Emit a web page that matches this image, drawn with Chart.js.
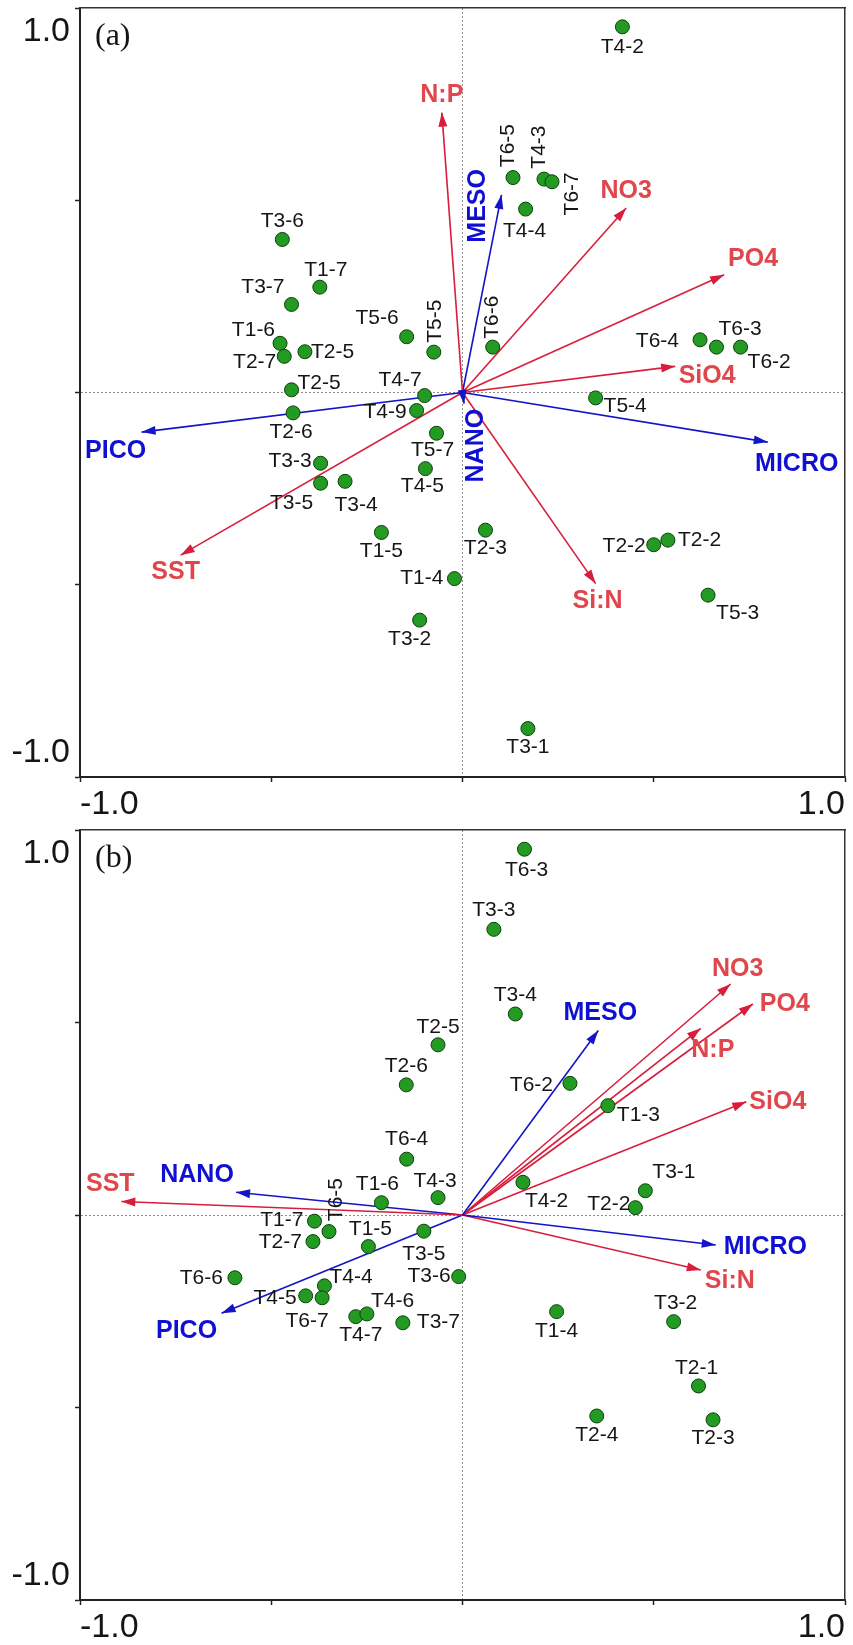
<!DOCTYPE html>
<html>
<head>
<meta charset="utf-8">
<script src="https://cdn.jsdelivr.net/npm/chart.js@4.4.1/dist/chart.umd.min.js"></script>
<style>
  html, body { margin: 0; padding: 0; background: #fff; }
  body { width: 853px; height: 1645px; overflow: hidden; }
  canvas { display: block; }
</style>
</head>
<body>
<canvas id="rda-a" width="853" height="822"></canvas>
<canvas id="rda-b" width="853" height="823"></canvas>
<script>
// RDA biplots: sampling sites (green dots) with environmental (red) and size-class (blue) vectors
const SANS = '"Liberation Sans", Arial, sans-serif';

const tickText = { '-1': '-1.0', '1': '1.0' };
const envVars = ['SST', 'NO3', 'PO4', 'SiO4', 'N:P', 'Si:N'];

// ---- panel (a)
const sitesA = ['T3-6','T1-7','T3-7','T5-6','T1-6','T2-5','T2-7','T2-5','T4-7','T4-9','T2-6','T3-3','T3-5','T3-4','T1-5','T3-2','T1-4','T4-5','T5-7','T5-5','T6-6','T6-5','T4-3','T6-7','T4-4','T4-2','T6-4','T6-3','T6-2','T5-4','T2-3','T2-2','T2-2','T5-3','T3-1'];
const siteXA = [-0.471,-0.373,-0.447,-0.146,-0.477,-0.412,-0.466,-0.447,-0.099,-0.120,-0.443,-0.371,-0.371,-0.307,-0.212,-0.112,-0.021,-0.097,-0.068,-0.075,0.079,0.132,0.213,0.234,0.165,0.418,0.621,0.664,0.727,0.348,0.060,0.500,0.537,0.642,0.171];
const siteYA = [0.398,0.274,0.229,0.145,0.128,0.106,0.094,0.007,-0.008,-0.047,-0.053,-0.184,-0.236,-0.231,-0.364,-0.592,-0.484,-0.198,-0.106,0.105,0.118,0.559,0.555,0.548,0.477,0.951,0.137,0.118,0.118,-0.014,-0.358,-0.396,-0.384,-0.527,-0.874];
const varsA = ['N:P','MESO','NO3','PO4','SiO4','PICO','SST','MICRO','Si:N','NANO'];
const varXA = [-0.054,0.102,0.428,0.684,0.556,-0.839,-0.737,0.798,0.348,0.004];
const varYA = [0.728,0.514,0.480,0.306,0.068,-0.103,-0.423,-0.129,-0.497,-0.029];

// ---- panel (b)
const sitesB = ['T6-3','T3-3','T3-4','T2-5','T2-6','T6-2','T1-3','T6-4','T1-6','T4-3','T6-5','T1-7','T2-7','T1-5','T3-5','T6-6','T4-4','T4-5','T6-7','T4-7','T4-6','T3-7','T3-6','T1-4','T3-2','T2-1','T2-4','T2-3','T4-2','T3-1','T2-2'];
const siteXB = [0.162,0.082,0.138,-0.064,-0.147,0.281,0.380,-0.146,-0.212,-0.064,-0.349,-0.387,-0.391,-0.246,-0.101,-0.595,-0.361,-0.410,-0.367,-0.279,-0.250,-0.156,-0.010,0.246,0.552,0.617,0.351,0.655,0.158,0.478,0.452];
const siteYB = [0.950,0.742,0.522,0.442,0.338,0.342,0.284,0.145,0.032,0.045,-0.043,-0.016,-0.069,-0.082,-0.042,-0.163,-0.184,-0.210,-0.215,-0.264,-0.257,-0.280,-0.160,-0.251,-0.277,-0.444,-0.522,-0.532,0.085,0.063,0.019];
const varsB = ['SST','NANO','PICO','MICRO','Si:N','MESO','NO3','PO4','N:P','SiO4'];
const varXB = [-0.892,-0.592,-0.630,0.662,0.623,0.355,0.701,0.759,0.623,0.742];
const varYB = [0.035,0.059,-0.255,-0.078,-0.143,0.479,0.600,0.548,0.485,0.294];

// label placement (anchor, dx px, dy px): c=centred, l=starts at, r=ends at, v=vertical
const siteLabA = [['c',0,-18],['c',6,-17],['r',-7,-17],['r',-8,-19],['r',-5,-13],['l',6,0],['r',-8,6],['l',6,-7],['r',-3,-15],['r',-10,2],['c',-2,19],['r',-9,-2],['c',-29,20],['c',11,24],['c',0,19],['c',-10,19],['r',-11,0],['c',-3,18],['c',-4,17],['v',1,-31],['v',-1,-30],['v',-5,-32],['v',-5,-32],['v',20,12],['c',-1,22],['c',0,20],['r',-21,1],['l',2,-18],['l',7,15],['l',8,8],['c',0,18],['r',-8,1],['l',10,0],['l',8,18],['c',0,19]];
const varLabA = [['c',0,-17],['v',-23,11],['c',0,-17],['c',29,-16],['c',32,10],['c',-26,19],['c',-5,17],['c',29,22],['c',2,18],['v',12,42]];
const siteLabB = [['c',2,21],['c',0,-19],['c',0,-19],['c',0,-18],['c',0,-19],['r',-17,2],['l',9,10],['c',0,-20],['c',-4,-18],['c',-3,-16],['v',7,-32],['r',-11,-1],['r',-11,1],['c',2,-17],['c',0,23],['r',-12,0],['l',5,-9],['r',-9,2],['c',-15,23],['c',5,19],['l',4,-13],['l',14,-1],['r',-8,0],['c',0,20],['c',2,-18],['c',-2,-18],['c',0,19],['c',0,18],['l',2,19],['l',7,-19],['r',-5,-3]];
const varLabB = [['c',-11,-17],['c',-39,-17],['c',-35,18],['l',8,2],['l',4,11],['c',2,-17],['c',7,-15],['l',7,0],['c',12,22],['l',3,0]];

const RED = '#d81e3c', RED_TXT = '#e0474c', BLUE = '#1414c8', BLUE_TXT = '#1010d2';

function put(ctx, text, p, [how, dx, dy], font, color) {
  ctx.save();
  ctx.font = font;
  ctx.fillStyle = color;
  ctx.textBaseline = 'middle';
  ctx.translate(p.x + dx, p.y + dy);
  if (how === 'v') ctx.rotate(-Math.PI / 2);
  ctx.textAlign = how === 'l' ? 'left' : how === 'r' ? 'right' : 'center';
  ctx.fillText(text, 0, 0);
  ctx.restore();
}

// arrowheads, vector names, site names and panel tag
const labels = {
  id: 'labels',
  afterDatasetsDraw(chart, args, o) {
    const { ctx, chartArea } = chart;
    chart.data.datasets.forEach((ds, i) => {
      const pts = chart.getDatasetMeta(i).data;
      if (ds.vector) {
        const [p0, p1] = pts;
        const a = Math.atan2(p1.y - p0.y, p1.x - p0.x), c = Math.cos(a), s = Math.sin(a);
        ctx.save();
        ctx.fillStyle = ds.borderColor;
        ctx.beginPath();
        ctx.moveTo(p1.x, p1.y);
        ctx.lineTo(p1.x - 14 * c + 4.5 * s, p1.y - 14 * s - 4.5 * c);
        ctx.lineTo(p1.x - 14 * c - 4.5 * s, p1.y - 14 * s + 4.5 * c);
        ctx.closePath();
        ctx.fill();
        ctx.restore();
        put(ctx, ds.label, p1, ds.place, 'bold 25px ' + SANS, ds.textColor);
      } else {
        pts.forEach((p, j) => put(ctx, ds.names[j], p, ds.places[j], '21px ' + SANS, '#151515'));
      }
    });
    put(ctx, o.tag, { x: chartArea.left, y: chartArea.top }, ['l', 15, 29], '32px "Liberation Serif", "Times New Roman", serif', '#151515');
  }
};

const zeroLine = c => (c.tick && c.tick.value === 0 ? '#8c8c8c' : 'rgba(0,0,0,0)');
const tickFont = { family: SANS, size: 34 };

function biplot(id, tag, padTop, sites, sx, sy, sitePlace, vars, vx, vy, varPlace) {
  const datasets = vars.map((v, i) => {
    const env = envVars.includes(v);
    return {
      label: v, vector: true, place: varPlace[i],
      data: [{ x: 0, y: 0 }, { x: vx[i], y: vy[i] }],
      showLine: true, borderColor: env ? RED : BLUE, textColor: env ? RED_TXT : BLUE_TXT,
      borderWidth: 1.6, pointRadius: 0, order: 2
    };
  });
  datasets.push({
    label: 'sites', names: sites, places: sitePlace,
    data: sites.map((s, i) => ({ x: sx[i], y: sy[i] })),
    backgroundColor: '#239b23', borderColor: '#0d3f0d', borderWidth: 1, pointRadius: 7, order: 1
  });

  const frame = { display: false, drawTicks: false };
  return new Chart(document.getElementById(id), {
    type: 'scatter',
    data: { datasets },
    plugins: [labels],
    options: {
      responsive: false, animation: false, devicePixelRatio: 1, events: [],
      layout: { padding: { top: padTop, right: 2, left: 0, bottom: 0 } },
      plugins: { legend: { display: false }, tooltip: { enabled: false }, labels: { tag } },
      scales: {
        x: {
          type: 'linear', min: -1, max: 1,
          ticks: { stepSize: 0.5, align: 'inner', maxRotation: 0, autoSkip: false, padding: 2, color: '#151515', font: tickFont,
            callback: v => tickText[v] ?? '' },
          grid: { color: zeroLine, lineWidth: 1, tickColor: '#222', tickLength: 5, tickWidth: 1.5 },
          border: { color: '#222', width: 2, dash: [2, 2] },
          afterFit: s => { s.height = 45; s.paddingLeft = 0; s.paddingRight = 0; }
        },
        y: {
          type: 'linear', min: -1, max: 1,
          ticks: { stepSize: 0.5, padding: 5, color: '#151515', font: { ...tickFont, lineHeight: '48px' },
            callback: v => tickText[v] ? (v > 0 ? ['', tickText[v]] : [tickText[v], '']) : '' },
          grid: { color: zeroLine, lineWidth: 1, tickColor: '#222', tickLength: 5, tickWidth: 1.5 },
          border: { color: '#222', width: 2, dash: [2, 2] },
          afterFit: s => { s.width = 80; s.paddingTop = 0; s.paddingBottom = 0; }
        },
        x2: {
          type: 'linear', position: 'top', min: -1, max: 1,
          ticks: { display: false }, grid: frame, border: { color: '#333', width: 1.5 },
          afterFit: s => { s.height = 0; }
        },
        y2: {
          type: 'linear', position: 'right', min: -1, max: 1,
          ticks: { display: false }, grid: frame, border: { color: '#333', width: 1.5 },
          afterFit: s => { s.width = 0; }
        }
      }
    }
  });
}

biplot('rda-a', '(a)', 7, sitesA, siteXA, siteYA, siteLabA, varsA, varXA, varYA, varLabA);
biplot('rda-b', '(b)', 8, sitesB, siteXB, siteYB, siteLabB, varsB, varXB, varYB, varLabB);
</script>
</body>
</html>
